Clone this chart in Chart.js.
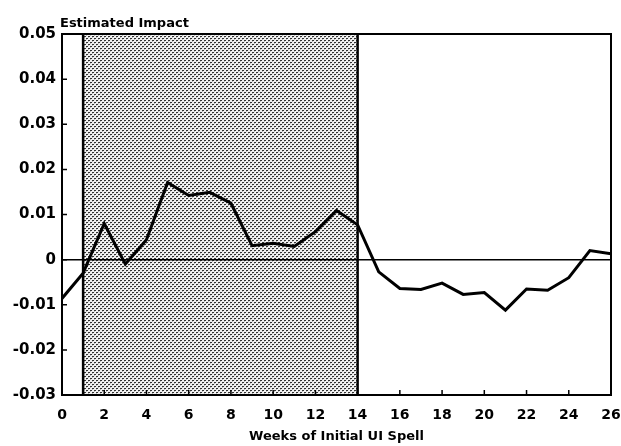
<!DOCTYPE html>
<html>
<head>
<meta charset="utf-8">
<script src="https://cdn.jsdelivr.net/npm/chart.js@4/dist/chart.umd.min.js"></script>
<style>
  html, body { margin: 0; padding: 0; background: #fff; }
  #wrap { width: 621px; height: 446px; }
</style>
</head>
<body>
<div id="wrap"><canvas id="impactChart" width="621" height="446"></canvas></div>
<script>
// weeks of initial UI spell and estimated impact
const weeks = [0, 1, 2, 3, 4, 5, 6, 7, 8, 9, 10, 11, 12, 13, 14, 15, 16, 17, 18, 19, 20, 21, 22, 23, 24, 25, 26];
const impact = [-0.0086, -0.003, 0.008, -0.001, 0.0044, 0.0171, 0.0142, 0.0149, 0.0125, 0.0031, 0.0036, 0.0029,
    0.0062, 0.0109, 0.0077, -0.0027, -0.0064, -0.0066, -0.0052, -0.0077, -0.0073, -0.0112, -0.0065, -0.0068,
    -0.004, 0.002, 0.0013];
const shadedWeeks = [1, 14];
const xTicks = [0, 2, 4, 6, 8, 10, 12, 14, 16, 18, 20, 22, 24, 26];
const yTicks = [-0.03, -0.02, -0.01, 0, 0.01, 0.02, 0.03, 0.04, 0.05];
const yTickLabels = ['-0.03', '-0.02', '-0.01', '0', '0.01', '0.02', '0.03', '0.04', '0.05'];

const font = "'DejaVu Sans', Arial, sans-serif";

function makePattern(ctx) {
    const c = document.createElement('canvas');
    c.width = 4;
    c.height = 4;
    const p = c.getContext('2d');
    p.fillStyle = '#f2f2f2';
    p.fillRect(0, 0, 4, 4);
    p.fillStyle = '#333';
    p.fillRect(0, 0, 2, 1);
    p.fillRect(2, 2, 2, 1);
    p.fillStyle = '#bbb';
    p.fillRect(0, 1, 1, 1);
    p.fillRect(2, 3, 1, 1);
    return ctx.createPattern(c, 'repeat');
}

const framePlugin = {
    id: 'frame',
    beforeDatasetsDraw(chart) {
        const { ctx, chartArea: a, scales: { x, y } } = chart;
        const x1 = x.getPixelForValue(shadedWeeks[0]);
        const x2 = x.getPixelForValue(shadedWeeks[1]);
        ctx.save();
        ctx.fillStyle = makePattern(ctx);
        ctx.fillRect(x1, a.top, x2 - x1, a.bottom - a.top);

        // zero line
        const y0 = y.getPixelForValue(0);
        ctx.strokeStyle = '#000';
        ctx.lineWidth = 1.5;
        ctx.beginPath();
        ctx.moveTo(a.left, y0);
        ctx.lineTo(a.right, y0);
        ctx.stroke();

        // shaded region borders
        ctx.lineWidth = 2.5;
        ctx.beginPath();
        ctx.moveTo(x1, a.top);
        ctx.lineTo(x1, a.bottom);
        ctx.moveTo(x2, a.top);
        ctx.lineTo(x2, a.bottom);
        ctx.stroke();

        // inward ticks
        ctx.lineWidth = 1.5;
        ctx.beginPath();
        xTicks.forEach(t => {
            const px = x.getPixelForValue(t);
            ctx.moveTo(px, a.bottom);
            ctx.lineTo(px, a.bottom - 5);
        });
        yTicks.forEach(t => {
            const py = y.getPixelForValue(t);
            ctx.moveTo(a.left, py);
            ctx.lineTo(a.left + 5, py);
        });
        ctx.stroke();

        // frame
        ctx.lineWidth = 2;
        ctx.strokeRect(a.left, a.top, a.right - a.left, a.bottom - a.top);

        // y title above the axis
        ctx.fillStyle = '#000';
        ctx.font = 'bold 13px ' + font;
        ctx.textAlign = 'left';
        ctx.textBaseline = 'alphabetic';
        ctx.fillText('Estimated Impact', a.left - 2, a.top - 7);
        ctx.restore();
    }
};

new Chart(document.getElementById('impactChart'), {
    type: 'line',
    data: {
        labels: weeks,
        datasets: [{
            data: weeks.map((w, i) => ({ x: w, y: impact[i] })),
            borderColor: '#000',
            borderWidth: 3,
            pointRadius: 0,
            tension: 0,
            fill: false
        }]
    },
    options: {
        responsive: false,
        animation: false,
        layout: { padding: { left: 0, right: 10, top: 34, bottom: 2 } },
        plugins: { legend: { display: false }, tooltip: { enabled: false } },
        scales: {
            x: {
                type: 'linear',
                min: 0,
                max: 26,
                afterBuildTicks: (s) => { s.ticks = xTicks.map(v => ({ value: v })); },
                ticks: {
                    color: '#000',
                    font: { family: font, size: 14, weight: 'bold' },
                    maxRotation: 0,
                    padding: 12,
                    callback: (v) => String(v)
                },
                grid: { display: false, drawTicks: false },
                border: { display: false },
                title: {
                    display: true,
                    text: 'Weeks of Initial UI Spell',
                    color: '#000',
                    font: { family: font, size: 13, weight: 'bold' },
                    padding: { top: 4, bottom: 0 }
                },
                afterFit: (s) => {
                    s.height = 49;
                    s.paddingLeft = 0;
                    s.paddingRight = 0;
                }
            },
            y: {
                min: -0.03,
                max: 0.05,
                afterBuildTicks: (s) => { s.ticks = yTicks.map(v => ({ value: v })); },
                ticks: {
                    color: '#000',
                    font: { family: font, size: 15, weight: 'bold' },
                    padding: 6,
                    callback: (v) => yTickLabels[yTicks.findIndex(t => Math.abs(t - v) < 1e-9)]
                },
                grid: { display: false, drawTicks: false },
                border: { display: false },
                afterFit: (s) => { s.width = 62; }
            }
        }
    },
    plugins: [framePlugin]
});
</script>
</body>
</html>
